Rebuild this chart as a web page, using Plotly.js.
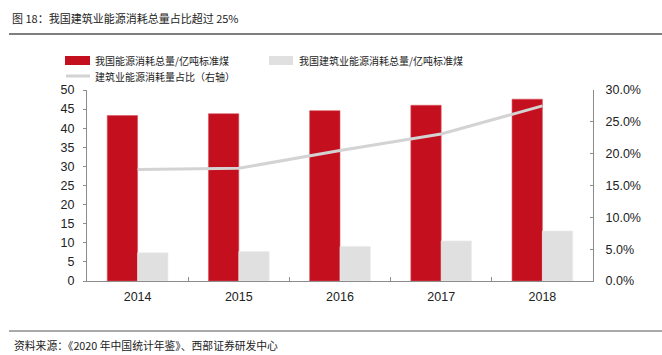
<!DOCTYPE html>
<html>
<head>
<meta charset="utf-8">
<script src="https://cdn.plot.ly/plotly-3.0.1.min.js"></script>
<style>html,body{margin:0;padding:0;background:#fff;}#chart{width:662px;height:355px;}</style>
</head>
<body>
<div id="chart"></div>
<script>
const years = ['2014', '2015', '2016', '2017', '2018'];
const nationalEnergy = [43.3, 43.8, 44.6, 46.0, 47.6];
const buildingEnergy = [7.4, 7.7, 9.0, 10.5, 13.1];
const buildingShare = [0.175, 0.177, 0.205, 0.231, 0.275];
const leftTicks = [0, 5, 10, 15, 20, 25, 30, 35, 40, 45, 50];
const rightTicks = [0, 0.05, 0.10, 0.15, 0.20, 0.25, 0.30];
const seriesNames = ['我国能源消耗总量/亿吨标准煤', '我国建筑业能源消耗总量/亿吨标准煤', '建筑业能源消耗量占比（右轴）'];
const titleText = '图 18：我国建筑业能源消耗总量占比超过 25%';
const sourceText = '资料来源：《2020 年中国统计年鉴》、西部证券研发中心';

const RED = '#C4101E', GRAY = '#E0E0E0', LINEGRAY = '#D3D3D3';
const FONT = 'Liberation Sans, Arial, "Noto Sans CJK SC", sans-serif';
const CJK = '"Noto Sans CJK SC", "Liberation Sans", sans-serif';

// plot area in pixels: left 87, right 593, top 90, bottom 281
const W = 662, H = 355, L = 87, R = 69, T = 90, B = 74;
const PW = W - L - R, PH = H - T - B;
const px = v => (v - L) / PW;
const py = v => (H - B - v) / PH;

const traces = [
  {type: 'bar', name: seriesNames[0], x: years, y: nationalEnergy,
   marker: {color: RED, line: {color: '#D95560', width: 0.6}}, yaxis: 'y', hoverinfo: 'skip'},
  {type: 'bar', name: seriesNames[1], x: years, y: buildingEnergy,
   marker: {color: GRAY, line: {color: '#EBEBEB', width: 0.6}}, yaxis: 'y', hoverinfo: 'skip'},
  {type: 'scatter', mode: 'lines', name: seriesNames[2], x: years, y: buildingShare,
   line: {color: LINEGRAY, width: 3}, yaxis: 'y2', hoverinfo: 'skip'}
];

const legendFont = {family: CJK, size: 10, color: '#222'};

const layout = {
  width: W, height: H,
  margin: {l: L, r: R, t: T, b: B},
  paper_bgcolor: '#fff', plot_bgcolor: '#fff',
  font: {family: FONT, size: 12, color: '#222'},
  barmode: 'group', bargap: 0.4, bargroupgap: 0,
  showlegend: false,
  xaxis: {
    type: 'category', showgrid: false, zeroline: false,
    showline: true, linecolor: '#8C8C8C', linewidth: 1,
    ticks: 'inside', ticklen: 4, tickcolor: '#8C8C8C', tickson: 'boundaries', ticklabelstandoff: 4,
    tickfont: {family: FONT, size: 12.5, color: '#222'}, fixedrange: true
  },
  yaxis: {
    range: [0, 50], tickvals: leftTicks, showgrid: false, zeroline: false,
    showline: true, linecolor: '#8C8C8C', linewidth: 1,
    ticks: 'outside', ticklen: 3, tickcolor: '#8C8C8C', ticklabelstandoff: 6,
    tickfont: {family: FONT, size: 12.5, color: '#222'}, fixedrange: true
  },
  yaxis2: {
    range: [0, 0.3], tickvals: rightTicks, tickformat: '.1%', overlaying: 'y', side: 'right',
    showgrid: false, zeroline: false, showline: true, linecolor: '#8C8C8C', linewidth: 1,
    ticks: 'inside', ticklen: 3, tickcolor: '#8C8C8C', ticklabelstandoff: 9,
    tickfont: {family: FONT, size: 12.5, color: '#222'}, fixedrange: true
  },
  shapes: [
    // title and source rules
    {type: 'line', xref: 'paper', yref: 'paper', x0: px(9), x1: px(662), y0: py(34), y1: py(34),
     line: {color: '#555', width: 1.5}},
    {type: 'line', xref: 'paper', yref: 'paper', x0: px(9), x1: px(662), y0: py(331), y1: py(331),
     line: {color: '#555', width: 1}},
    // legend swatches
    {type: 'rect', xref: 'paper', yref: 'paper', x0: px(65), x1: px(90), y0: py(56), y1: py(65),
     fillcolor: RED, line: {width: 0}},
    {type: 'rect', xref: 'paper', yref: 'paper', x0: px(269), x1: px(293), y0: py(56), y1: py(65),
     fillcolor: GRAY, line: {width: 0}},
    {type: 'line', xref: 'paper', yref: 'paper', x0: px(66), x1: px(90), y0: py(76), y1: py(76),
     line: {color: LINEGRAY, width: 3}}
  ],
  annotations: [
    {text: titleText, xref: 'paper', yref: 'paper', x: px(10), y: py(18),
     xanchor: 'left', yanchor: 'middle', showarrow: false,
     font: {family: CJK, size: 11, color: '#222'}},
    {text: sourceText, xref: 'paper', yref: 'paper', x: px(12), y: py(345),
     xanchor: 'left', yanchor: 'middle', showarrow: false,
     font: {family: CJK, size: 10.8, color: '#222'}},
    {text: seriesNames[0], xref: 'paper', yref: 'paper', x: px(93), y: py(60.5),
     xanchor: 'left', yanchor: 'middle', showarrow: false, font: legendFont},
    {text: seriesNames[1], xref: 'paper', yref: 'paper', x: px(297), y: py(60.5),
     xanchor: 'left', yanchor: 'middle', showarrow: false, font: legendFont},
    {text: seriesNames[2], xref: 'paper', yref: 'paper', x: px(93), y: py(76),
     xanchor: 'left', yanchor: 'middle', showarrow: false, font: legendFont}
  ]
};

Plotly.newPlot('chart', traces, layout, {displayModeBar: false, staticPlot: true});
</script>
</body>
</html>
